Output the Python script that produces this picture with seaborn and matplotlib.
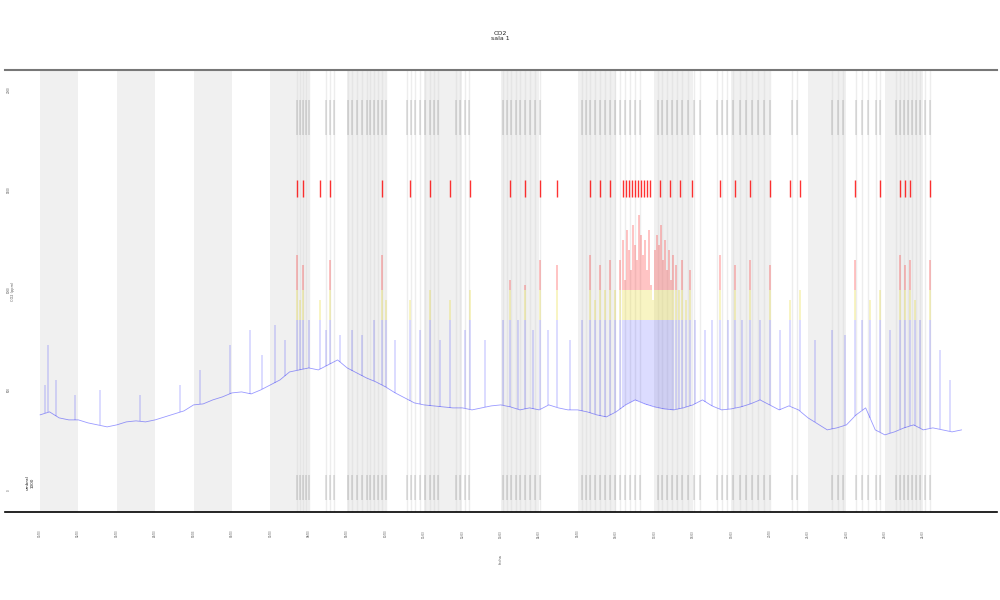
# Librerias
import seaborn as sns
import pandas as pd
import numpy as np
import matplotlib.pyplot as plt
from matplotlib.patches import Rectangle

# Datos: CO2 (ppm) cada 6 horas, tiempo en dias desde el inicio
dias = np.arange(0, 24.01, 0.25)
co2 = [375, 390, 360, 350, 350, 335, 325, 315, 325, 340, 345, 340, 350, 365, 380, 395,
       425, 430, 450, 465, 485, 490, 480, 500, 525, 550, 590, 600, 610, 600, 625, 650,
       610, 585, 560, 540, 515, 485, 460, 435, 425, 420, 415, 410, 410, 400, 410, 420,
       425, 415, 400, 410, 400, 425, 410, 400, 400, 390, 375, 365, 390, 425, 450, 430,
       415, 405, 400, 410, 425, 450, 420, 400, 405, 415, 430, 450, 425, 400, 420, 400,
       360, 330, 300, 310, 325, 375, 410, 300, 275, 290, 310, 325, 300, 310, 300, 290, 300]

# Picos de CO2 (dia, valor maximo)
pico_dia = [0.13, 0.21, 0.42, 0.91, 1.56, 2.60, 3.65, 4.17, 4.95, 5.47, 5.78, 6.12, 6.38,
            6.69, 6.77, 6.85, 7.01, 7.29, 7.45, 7.55, 7.81, 8.13, 8.39, 8.70, 8.91, 9.01,
            9.24, 9.64, 9.90, 10.16, 10.42, 10.68, 11.07, 11.20, 11.59, 12.06, 12.24, 12.45,
            12.63, 12.84, 13.02, 13.23, 13.46, 13.80, 14.11, 14.32, 14.45, 14.58, 14.71,
            14.84, 14.97, 15.10, 15.18, 15.23, 15.29, 15.34, 15.39, 15.44, 15.49, 15.55,
            15.60, 15.65, 15.70, 15.76, 15.81, 15.86, 15.91, 15.96, 16.02, 16.07, 16.12,
            16.17, 16.22, 16.28, 16.33, 16.38, 16.43, 16.48, 16.56, 16.64, 16.72, 16.82,
            16.93, 17.06, 17.32, 17.50, 17.71, 17.92, 18.10, 18.28, 18.49, 18.75, 19.01,
            19.27, 19.53, 19.79, 20.18, 20.63, 20.96, 21.22, 21.41, 21.61, 21.88, 22.14,
            22.40, 22.53, 22.66, 22.79, 22.92, 23.18, 23.44, 23.70]
pico_ppm = [525, 725, 550, 475, 500, 475, 525, 600, 725, 800, 675, 825, 750,
            1175, 950, 1125, 850, 950, 800, 1150, 775, 800, 775, 850, 1175, 950,
            750, 950, 800, 1000, 750, 950, 800, 1000, 750, 850, 1050, 850,
            1025, 800, 1150, 800, 1125, 750, 850, 1175, 950, 1125, 1000,
            1150, 1000, 1150, 1250, 1050, 1300, 1200, 1100, 1325, 1225, 1150,
            1375, 1275, 1175, 1250, 1100, 1300, 1025, 950, 1200, 1275, 1225,
            1325, 1150, 1250, 1100, 1200, 1050, 1175, 1125, 1000, 1150, 950,
            1100, 850, 800, 850, 1175, 850, 1125, 850, 1150, 850, 1125,
            800, 950, 1000, 750, 800, 775, 1150, 850, 950, 1000, 800,
            1175, 1125, 1150, 950, 850, 1150, 700, 550]

# Eventos registrados (dias)
eventos = [6.69, 6.77, 6.85, 6.93, 7.01, 7.45, 7.55, 7.66, 8.02, 8.13, 8.26, 8.39, 8.52,
           8.59, 8.70, 8.80, 8.91, 9.01, 9.56, 9.66, 9.77, 9.90, 10.03, 10.16, 10.26,
           10.36, 10.83, 10.94, 11.07, 11.17, 12.06, 12.16, 12.27, 12.40, 12.50, 12.63,
           12.76, 12.89, 13.02, 14.11, 14.22, 14.32, 14.45, 14.58, 14.71, 14.84, 14.97,
           15.10, 15.23, 15.36, 15.49, 15.63, 16.09, 16.20, 16.33, 16.46, 16.59, 16.72,
           16.88, 17.03, 17.19, 17.63, 17.76, 17.89, 18.05, 18.23, 18.39, 18.54, 18.70,
           18.85, 19.01, 19.58, 19.71, 20.63, 20.78, 20.91, 21.25, 21.41, 21.56, 21.77,
           21.88, 22.29, 22.40, 22.50, 22.60, 22.71, 22.81, 22.92, 23.05, 23.18]
# Alertas (dias)
alertas = [6.69, 6.85, 7.29, 7.55, 8.91, 9.64, 10.16, 10.68, 11.20, 12.24, 12.63, 13.02,
           13.46, 14.32, 14.58, 14.84, 15.18, 15.26, 15.34, 15.42, 15.49, 15.57, 15.65,
           15.73, 15.81, 15.89, 16.15, 16.41, 16.67, 16.98, 17.71, 18.10, 18.49, 19.01,
           19.53, 19.79, 21.22, 21.88, 22.40, 22.53, 22.66, 23.18]

etiquetas_x = [f'{d:02d}/03' for d in range(1, 25)]
umbral_amarillo = 850
umbral_rojo = 1000

df = pd.DataFrame({'dia': dias, 'co2': co2})

sns.set_theme(style="white")
fig = plt.figure(figsize=(10, 6), dpi=100)
ax = fig.add_axes([0.005, 0.147, 0.992, 0.736])

# Franjas grises alternas
for i in range(0, 24, 2):
    ax.axvspan(i, i + 1, color='#f0f0f0', lw=0, zorder=0)

# Eventos: lineas verticales completas y marcas arriba/abajo
ax.vlines(eventos, -110, 2100, color='#d8d8d8', lw=1.0, alpha=0.45, zorder=1)
ax.vlines(eventos, 1775, 1950, color='#444444', lw=0.35, alpha=0.6, zorder=2)
ax.vlines(eventos, -50, 75, color='#444444', lw=0.35, alpha=0.6, zorder=2)
ax.vlines(alertas, 1465, 1550, color='red', lw=1.0, alpha=0.8, zorder=2)

# Serie base
sns.lineplot(data=df, x='dia', y='co2', color='blue', lw=0.6, alpha=0.4, ax=ax, zorder=3)

# Picos coloreados segun umbral
base_pico = np.interp(pico_dia, dias, co2)
bandas = [(-200, umbral_amarillo, 'blue', 0.18),
          (umbral_amarillo, umbral_rojo, '#e8d820', 0.35),
          (umbral_rojo, 2200, 'red', 0.3)]
for lo, hi, color, a in bandas:
    clip = Rectangle((-5, lo), 40, hi - lo, transform=ax.transData)
    lc = ax.vlines(pico_dia, base_pico, pico_ppm, color=color, lw=1.1, alpha=a, zorder=3)
    lc.set_clip_path(clip)

ax.set_xlim(-0.91, 24.92)
ax.set_ylim(-110, 2100)
ax.set_xticks(range(24))
ax.set_xticklabels(etiquetas_x, rotation=90, fontsize=2, color='#555555')
ax.set_yticks([0, 500, 1000, 1500, 2000])
ax.set_yticklabels(['0', '500', '1000', '1500', '2000'], rotation=90, fontsize=2,
                   color='#555555', va='center')
ax.tick_params(axis='x', length=0, pad=13)
ax.tick_params(axis='y', length=0, pad=-4)
ax.set_xlabel('fecha', fontsize=2.5, rotation=90, labelpad=12, color='#555555')
ax.set_ylabel('CO2 (ppm)', fontsize=2.5, labelpad=-7, color='#555555')

for s in ['left', 'right']:
    ax.spines[s].set_visible(False)
ax.spines['top'].set_color('#777777')
ax.spines['top'].set_linewidth(1.5)
ax.spines['bottom'].set_color('black')
ax.spines['bottom'].set_linewidth(1.2)

ax.text(-0.26, 35, 'umbral\n1000', rotation=90, fontsize=3, ha='center', va='center',
        color='#222222')
fig.text(0.5, 0.94, 'CO2\nsala 1', ha='center', va='center', fontsize=4.5, color='#222222')

plt.savefig('out.png', dpi=100)
plt.close()
